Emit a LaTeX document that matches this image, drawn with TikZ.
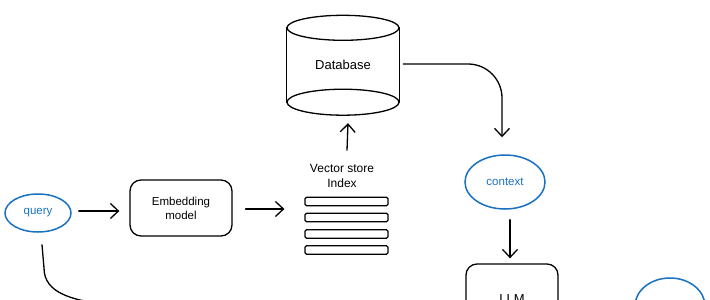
\documentclass[tikz,border=0pt]{standalone}
\usepackage{fontspec}
\setmainfont{Liberation Sans}
\usetikzlibrary{arrows.meta,shapes.geometric}
\definecolor{ublue}{HTML}{1971C2}
\tikzset{
  x=1pt,y=-1pt,
  sk/.style={line width=1.3pt,line cap=round,line join=round},
  arr/.style={sk,-{Straight Barb[length=8pt,width=15pt,line width=1.3pt]}},
  blueell/.style={ellipse,draw=ublue,line width=1.5pt,text=ublue,font=\fontsize{11.5}{13}\selectfont,inner sep=0pt},
  rbox/.style={rectangle,rounded corners=11pt,draw,sk,font=\fontsize{11.5}{14}\selectfont,align=center,inner sep=0pt},
  bar/.style={rectangle,rounded corners=1.5pt,draw,line width=1.2pt,minimum width=83pt,minimum height=8.5pt,inner sep=0pt},
  lbl/.style={font=\fontsize{12}{15}\selectfont,align=center,inner sep=0pt}
}
\begin{document}
\begin{tikzpicture}
\useasboundingbox (0,0) rectangle (710,300);
\clip (0,0) rectangle (710,300);
\fill[white] (0,0) rectangle (710,300);

% nodes
\node[blueell,minimum width=66pt,minimum height=38pt] (query) at (38,213) {query};
\node[rbox,minimum width=102pt,minimum height=56pt] (emb) at (181,208) {Embedding\\model};
\node[lbl] (vsi) at (342,176) {Vector store\\Index};
\node[bar] (b1) at (346.5,201.5) {};
\node[bar] (b2) at (346.5,217.5) {};
\node[bar] (b3) at (346.5,234) {};
\node[bar] (b4) at (346.5,250) {};
\node[rectangle,minimum width=112pt,minimum height=100pt,inner sep=0pt,lbl,font=\fontsize{13}{15}\selectfont] (db) at (343,65) {Database};
\node[blueell,minimum width=80pt,minimum height=54pt] (ctx) at (505,182) {context};
\node[rbox,minimum width=92pt,minimum height=70pt,font=\fontsize{13}{15}\selectfont] (llm) at (512,299) {LLM};
\node[ellipse,draw=ublue,line width=1.5pt,minimum width=70pt,minimum height=56pt] (resp) at (670,306) {};

% database cylinder
\draw[sk] ([yshift=-13]db.north) ellipse[x radius=56,y radius=12.5];
\draw[sk] ([yshift=13]db.south) ellipse[x radius=56,y radius=13];
\draw[sk] ([yshift=-13]db.north west) -- ([yshift=13]db.south west);
\draw[sk] ([yshift=-13]db.north east) -- ([yshift=13]db.south east);

% connectors
\coordinate (q0) at ([xshift=7,yshift=2]query.east);
\coordinate (e1) at ([yshift=-1]emb.east);
\coordinate (k0) at ([yshift=-10]ctx.south -| llm.north);
\draw[arr] (q0) -- ([xshift=-10]emb.west |- q0);
\draw[arr] ([xshift=13]e1) -- ([xshift=-20]b1.west |- e1);
\draw[arr] ([xshift=5,yshift=14]vsi.north) -- ([xshift=5,yshift=-8]db.south);
\coordinate (c1) at (468,64);
\draw[arr] ([xshift=4,yshift=1]db.east) -- (c1) to[out=0,in=90] (502,98) -- ([xshift=-3,yshift=17]ctx.north);
\draw[arr] ([xshift=-2]k0) -- ([xshift=-2,yshift=5]llm.north);
\coordinate (q1) at (44,268);
\draw[arr] ([xshift=4,yshift=-12]query.south) -- (q1) to[out=-90,in=170] (100,304) -- ([xshift=-8,yshift=-12]llm.west);
\draw[arr] ([xshift=12,yshift=-12]llm.east) -- ([xshift=-12,yshift=-4]resp.west);
\end{tikzpicture}
\end{document}
